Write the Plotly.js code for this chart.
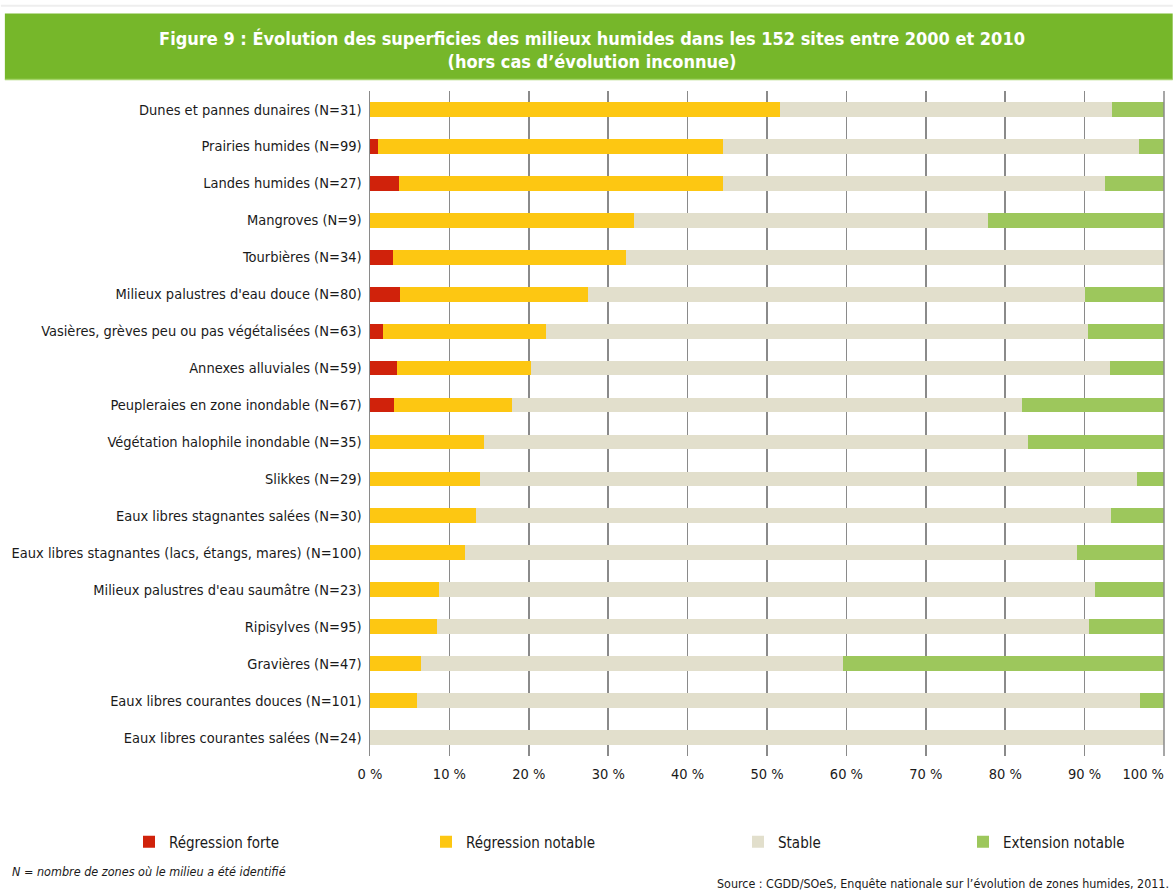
<!DOCTYPE html>
<html>
<head>
<meta charset="utf-8">
<script src="https://cdn.plot.ly/plotly-3.0.1.min.js"></script>
<style>
html,body{margin:0;padding:0;background:#fff;}
#chart{width:1173px;height:890px;}
</style>
</head>
<body>
<div id="chart"></div>
<script>
const categories = [
  "Dunes et pannes dunaires (N=31)",
  "Prairies humides (N=99)",
  "Landes humides (N=27)",
  "Mangroves (N=9)",
  "Tourbières (N=34)",
  "Milieux palustres d'eau douce (N=80)",
  "Vasières, grèves peu ou pas végétalisées (N=63)",
  "Annexes alluviales (N=59)",
  "Peupleraies en zone inondable (N=67)",
  "Végétation halophile inondable (N=35)",
  "Slikkes (N=29)",
  "Eaux libres stagnantes salées (N=30)",
  "Eaux libres stagnantes (lacs, étangs, mares) (N=100)",
  "Milieux palustres d'eau saumâtre (N=23)",
  "Ripisylves (N=95)",
  "Gravières (N=47)",
  "Eaux libres courantes douces (N=101)",
  "Eaux libres courantes salées (N=24)"
];
const regressionForte   = [0, 1.0, 3.7, 0, 2.9, 3.8, 1.6, 3.4, 3.0, 0, 0, 0, 0, 0, 0, 0, 0, 0];
const regressionNotable = [51.6, 43.4, 40.7, 33.3, 29.4, 23.7, 20.6, 16.9, 14.9, 14.3, 13.8, 13.3, 12.0, 8.7, 8.4, 6.4, 5.9, 0];
const stable            = [41.9, 52.5, 48.2, 44.5, 67.7, 62.5, 68.2, 72.9, 64.2, 68.6, 82.8, 80.0, 77.0, 82.6, 82.1, 53.2, 91.1, 100];
const extensionNotable  = [6.5, 3.1, 7.4, 22.2, 0, 10.0, 9.6, 6.8, 17.9, 17.1, 3.4, 6.7, 11.0, 8.7, 9.5, 40.4, 3.0, 0];
const seriesNames = ["Régression forte", "Régression notable", "Stable", "Extension notable"];
const xTickVals = [0, 10, 20, 30, 40, 50, 60, 70, 80, 90];
const xTickText = ["0 %", "10 %", "20 %", "30 %", "40 %", "50 %", "60 %", "70 %", "80 %", "90 %"];
const xLastTickVal = 100;
const xLastTickText = "100 %";

const FONT = '"Liberation Sans Narrow", "DejaVu Sans Condensed", "Roboto Condensed", sans-serif';
const colors = ["#D0220B", "#FDC712", "#E2DFCC", "#9DC75C"];
const seriesValues = [regressionForte, regressionNotable, stable, extensionNotable];
const legendIds = ["legend", "legend2", "legend3", "legend4"];
const legendX = [143, 440, 752, 977];

const traces = seriesValues.map((vals, i) => ({
  type: "bar",
  orientation: "h",
  name: seriesNames[i],
  x: vals,
  y: categories,
  marker: {color: colors[i], line: {width: 0}},
  legend: legendIds[i],
  hoverinfo: "x+y+name"
}));
// invisible helper so that the overlaid axis carrying the "100 %" label is drawn
traces.push({
  type: "scatter", mode: "markers",
  x: [xLastTickVal], y: [categories[0]],
  xaxis: "x2", yaxis: "y",
  marker: {opacity: 0, size: 1},
  showlegend: false, hoverinfo: "skip"
});

const W = 1173, H = 890;
const L = 369.5, R = 1164.3, T = 90.5, B = 756.5;
const px2x = px => (px - L) / (R - L);
const py2y = py => (B - py) / (B - T);

const layout = {
  width: W, height: H,
  margin: {l: L, r: W - R, t: T, b: H - B, pad: 0},
  paper_bgcolor: "#ffffff",
  plot_bgcolor: "#ffffff",
  barmode: "stack",
  bargap: 0.6,
  showlegend: true,
  font: {family: FONT, color: "#1a1a1a", size: 14.5},
  title: {
    text: "<b>Figure 9 : Évolution des superficies des milieux humides dans les 152 sites entre 2000 et 2010<br>(hors cas d’évolution inconnue)</b>",
    font: {family: FONT, color: "#ffffff", size: 18},
    xref: "container", yref: "container",
    x: 592 / W, y: 1 - 45 / H, xanchor: "center", yanchor: "middle"
  },
  xaxis: {
    range: [0, 100],
    tickvals: xTickVals,
    ticktext: xTickText,
    showgrid: true,
    gridcolor: "#8a8a8a",
    gridwidth: 1.5,
    zeroline: false,
    showline: false,
    ticks: "",
    ticklabelstandoff: 7,
    tickfont: {family: FONT, size: 14.5, color: "#1a1a1a"},
    fixedrange: true
  },
  xaxis2: {
    overlaying: "x",
    anchor: "y",
    side: "bottom",
    range: [0, 100],
    tickvals: [xLastTickVal],
    ticktext: [xLastTickText],
    ticklabelposition: "outside left",
    showgrid: true,
    gridcolor: "#8a8a8a",
    gridwidth: 1.5,
    zeroline: false,
    showline: false,
    ticks: "",
    ticklabelstandoff: 7,
    tickfont: {family: FONT, size: 14.5, color: "#1a1a1a"},
    fixedrange: true
  },
  yaxis: {
    type: "category",
    categoryorder: "array",
    categoryarray: categories,
    autorange: false,
    range: [categories.length - 0.5, -0.5],
    showgrid: false,
    zeroline: false,
    showline: true,
    linecolor: "#8a8a8a",
    linewidth: 1.5,
    ticks: "",
    ticklabelstandoff: 4,
    tickfont: {family: FONT, size: 14.5, color: "#1a1a1a"},
    fixedrange: true
  },
  shapes: [
    {type: "rect", xref: "paper", yref: "paper",
     x0: px2x(4), x1: px2x(1173), y0: py2y(79), y1: py2y(13),
     fillcolor: "#76B72A", line: {width: 0}, layer: "below"},
    {type: "line", xref: "paper", yref: "paper",
     x0: px2x(4), x1: px2x(1173), y0: py2y(79), y1: py2y(79),
     line: {color: "#A5D46A", width: 1.5}},
    {type: "line", xref: "paper", yref: "paper",
     x0: px2x(0), x1: px2x(1173), y0: py2y(5), y1: py2y(5),
     line: {color: "#EEEEEE", width: 2}},
    {type: "line", xref: "paper", yref: "paper",
     x0: 1, x1: 1, y0: 0, y1: 1,
     line: {color: "#8a8a8a", width: 1.5}}
  ],
  annotations: [
    {text: "<i>N = nombre de zones où le milieu a été identifié</i>",
     xref: "paper", yref: "paper", x: px2x(9), y: py2y(872),
     xanchor: "left", yanchor: "middle", showarrow: false,
     font: {family: FONT, size: 12.5, color: "#1a1a1a"}},
    {text: "Source : CGDD/SOeS, Enquête nationale sur l’évolution de zones humides, 2011.",
     xref: "paper", yref: "paper", x: px2x(1171), y: py2y(884),
     xanchor: "right", yanchor: "middle", showarrow: false,
     font: {family: FONT, size: 12.4, color: "#1a1a1a"}}
  ]
};

legendIds.forEach((id, i) => {
  layout[id] = {
    xref: "container", yref: "container",
    x: (legendX[i] - 14) / W, y: 1 - 842 / H,
    xanchor: "left", yanchor: "middle",
    orientation: "h",
    bgcolor: "rgba(0,0,0,0)",
    borderwidth: 0,
    itemwidth: 30,
    font: {family: FONT, size: 15, color: "#1a1a1a"}
  };
});

Plotly.newPlot("chart", traces, layout, {displayModeBar: false, staticPlot: true});
</script>
</body>
</html>
